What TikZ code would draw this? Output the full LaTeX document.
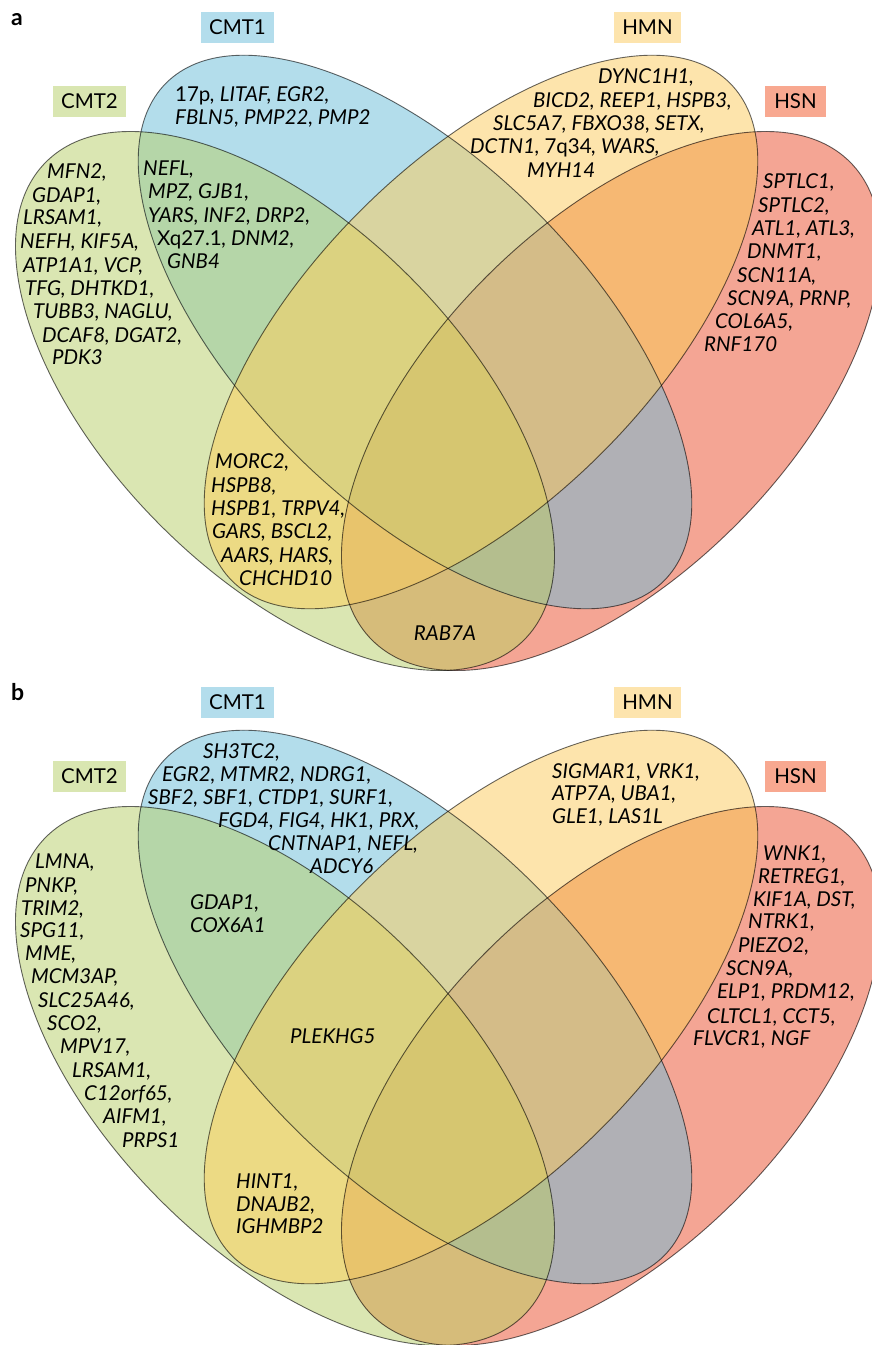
\documentclass[tikz,border=0pt]{standalone}
\usepackage{fontspec}
\setmainfont{Lato}
\definecolor{cG}{HTML}{DAE6B2}
\definecolor{cB}{HTML}{B3DDEB}
\definecolor{cY}{HTML}{FDE4AC}
\definecolor{cR}{HTML}{F4A594}
\definecolor{cGB}{HTML}{B5D6A8}
\definecolor{cGY}{HTML}{ECDA84}
\definecolor{cGR}{HTML}{D6BC7A}
\definecolor{cBY}{HTML}{D9D4A0}
\definecolor{cBR}{HTML}{B0B0B5}
\definecolor{cYR}{HTML}{F6B873}
\definecolor{cGBY}{HTML}{DBD280}
\definecolor{cGBR}{HTML}{B4BE8E}
\definecolor{cGYR}{HTML}{E8C46C}
\definecolor{cBYR}{HTML}{D4BC88}
\definecolor{cGBYR}{HTML}{D6C670}
\definecolor{lG}{HTML}{D9E6B1}
\definecolor{lB}{HTML}{B3DDEC}
\definecolor{lY}{HTML}{FDE4AD}
\definecolor{lR}{HTML}{F8A890}
\newcommand\EG[2]{[#2,rotate around={-45:(285,#1+401)}] (285,#1+401) ellipse [x radius=338,y radius=176]}
\newcommand\EB[2]{[#2,rotate around={-45:(415,#1+332)}] (415,#1+332) ellipse [x radius=352,y radius=171]}
\newcommand\EY[2]{[#2,rotate around={45:(481,#1+332)}] (481,#1+332) ellipse [x radius=352,y radius=171]}
\newcommand\ER[2]{[#2,rotate around={45:(611,#1+401)}] (611,#1+401) ellipse [x radius=338,y radius=176]}
\newcommand\vennpanel[1]{%
 \fill\EG{#1}{cG}; \fill\EB{#1}{cB}; \fill\EY{#1}{cY}; \fill\ER{#1}{cR};
 \begin{scope}\clip\EG{#1}{}; \fill\EB{#1}{cGB}; \fill\EY{#1}{cGY}; \fill\ER{#1}{cGR};\end{scope}
 \begin{scope}\clip\EB{#1}{}; \fill\EY{#1}{cBY}; \fill\ER{#1}{cBR};\end{scope}
 \begin{scope}\clip\EY{#1}{}; \fill\ER{#1}{cYR};\end{scope}
 \begin{scope}\clip\EG{#1}{}; \clip\EB{#1}{}; \fill\EY{#1}{cGBY}; \fill\ER{#1}{cGBR};\end{scope}
 \begin{scope}\clip\EG{#1}{}; \clip\EY{#1}{}; \fill\ER{#1}{cGYR};\end{scope}
 \begin{scope}\clip\EB{#1}{}; \clip\EY{#1}{}; \fill\ER{#1}{cBYR};\end{scope}
 \begin{scope}\clip\EG{#1}{}; \clip\EB{#1}{}; \clip\EY{#1}{}; \fill\ER{#1}{cGBYR};\end{scope}
 \draw\EG{#1}{outl}; \draw\EB{#1}{outl}; \draw\EY{#1}{outl}; \draw\ER{#1}{outl};
}
\begin{document}
\begin{tikzpicture}[x=1pt,y=-1pt,
  outl/.style={draw=black,draw opacity=0.6,line width=0.9pt},
  gene/.style={anchor=base west,inner sep=0pt,font=\fontsize{20.5pt}{23pt}\selectfont\itshape},
  genec/.style={gene,anchor=base},
  lab/.style={inner sep=0pt,minimum height=31pt,font=\fontsize{20.5pt}{23pt}\selectfont},
  panel/.style={anchor=base west,inner sep=0pt,font=\fontsize{23pt}{26pt}\selectfont\bfseries}]
\useasboundingbox (0,0) rectangle (871,1345);
\vennpanel{0}
\vennpanel{675}
% panel labels
\node[panel] (pa) at (11,25) {a};
\node[panel] (pb) at (11,700) {b};
% category labels panel a
\node[lab,fill=lB,minimum width=73pt] (aCMT1) at (237.5,27.5) {CMT1};
\node[lab,fill=lG,minimum width=73pt] (aCMT2) at (89.5,101.5) {CMT2};
\node[lab,fill=lY,minimum width=67pt] (aHMN) at (647.5,27.5) {HMN};
\node[lab,fill=lR,minimum width=61pt] (aHSN) at (795.5,101.5) {HSN};
% category labels panel b
\node[lab,fill=lB,minimum width=73pt] (bCMT1) at (237.5,702.5) {CMT1};
\node[lab,fill=lG,minimum width=73pt] (bCMT2) at (89.5,776.5) {CMT2};
\node[lab,fill=lY,minimum width=67pt] (bHMN) at (647.5,702.5) {HMN};
\node[lab,fill=lR,minimum width=61pt] (bHSN) at (795.5,776.5) {HSN};
% ---- panel a genes
\node[gene] (aB1) at (175,101) {\textup{17p}, LITAF, EGR2,};
\node[gene] (aB2) at (175,124) {FBLN5, PMP22, PMP2};
\node[gene] (aG1) at (47,178) {MFN2,};
\node[gene] (aG2) at (32,202) {GDAP1,};
\node[gene] (aG3) at (23,224) {LRSAM1,};
\node[gene] (aG4) at (20,248) {NEFH, KIF5A,};
\node[gene] (aG5) at (23,272) {ATP1A1, VCP,};
\node[gene] (aG6) at (25,295) {TFG, DHTKD1,};
\node[gene] (aG7) at (33,318) {TUBB3, NAGLU,};
\node[gene] (aG8) at (42,342) {DCAF8, DGAT2,};
\node[gene] (aG9) at (52,364) {PDK3};
\node[gene] (aGB1) at (143,175) {NEFL,};
\node[gene] (aGB2) at (148,198) {MPZ, GJB1,};
\node[gene] (aGB3) at (148,222) {YARS, INF2, DRP2,};
\node[gene] (aGB4) at (157,245) {\textup{Xq27.1}, DNM2,};
\node[gene] (aGB5) at (167,268) {GNB4};
\node[gene] (aY1) at (598,83) {DYNC1H1,};
\node[gene] (aY2) at (533,107) {BICD2, REEP1, HSPB3,};
\node[gene] (aY3) at (493,130) {SLC5A7, FBXO38, SETX,};
\node[gene] (aY4) at (470,153) {DCTN1, \textup{7q34}, WARS,};
\node[gene] (aY5) at (527,177) {MYH14};
\node[gene] (aR1) at (763,188) {SPTLC1,};
\node[gene] (aR2) at (758,212) {SPTLC2,};
\node[gene] (aR3) at (752,235) {ATL1, ATL3,};
\node[gene] (aR4) at (747,258) {DNMT1,};
\node[gene] (aR5) at (737,282) {SCN11A,};
\node[gene] (aR6) at (727,305) {SCN9A, PRNP,};
\node[gene] (aR7) at (715,328) {COL6A5,};
\node[gene] (aR8) at (704,351) {RNF170};
\node[gene] (aGY1) at (215,468) {MORC2,};
\node[gene] (aGY2) at (211,492) {HSPB8,};
\node[gene] (aGY3) at (211,515) {HSPB1, TRPV4,};
\node[gene] (aGY4) at (212,538) {GARS, BSCL2,};
\node[gene] (aGY5) at (221,562) {AARS, HARS,};
\node[gene] (aGY6) at (239,585) {CHCHD10};
\node[genec] (aGR1) at (445,640) {RAB7A};
% ---- panel b genes
\node[gene] (bB1) at (203,758) {SH3TC2,};
\node[gene] (bB2) at (162,781) {EGR2, MTMR2, NDRG1,};
\node[gene] (bB3) at (148,804) {SBF2, SBF1, CTDP1, SURF1,};
\node[gene] (bB4) at (218,827) {FGD4, FIG4, HK1, PRX,};
\node[gene] (bB5) at (268,850) {CNTNAP1, NEFL,};
\node[gene] (bB6) at (310,873) {ADCY6};
\node[gene] (bG1) at (35,868) {LMNA,};
\node[gene] (bG2) at (25,892) {PNKP,};
\node[gene] (bG3) at (21,915) {TRIM2,};
\node[gene] (bG4) at (20,937) {SPG11,};
\node[gene] (bG5) at (25,960) {MME,};
\node[gene] (bG6) at (31,983) {MCM3AP,};
\node[gene] (bG7) at (38,1007) {SLC25A46,};
\node[gene] (bG8) at (47,1030) {SCO2,};
\node[gene] (bG9) at (60,1053) {MPV17,};
\node[gene] (bG10) at (72,1077) {LRSAM1,};
\node[gene] (bG11) at (84,1100) {C12orf65,};
\node[gene] (bG12) at (103,1123) {AIFM1,};
\node[gene] (bG13) at (122,1147) {PRPS1};
\node[gene] (bGB1) at (190,909) {GDAP1,};
\node[gene] (bGB2) at (190,932) {COX6A1};
\node[gene] (bY1) at (552,778) {SIGMAR1, VRK1,};
\node[gene] (bY2) at (552,800) {ATP7A, UBA1,};
\node[gene] (bY3) at (552,823) {GLE1, LAS1L};
\node[gene] (bR1) at (763,860) {WNK1,};
\node[gene] (bR2) at (758,883) {RETREG1,};
\node[gene] (bR3) at (753,906) {KIF1A, DST,};
\node[gene] (bR4) at (748,928) {NTRK1,};
\node[gene] (bR5) at (738,952) {PIEZO2,};
\node[gene] (bR6) at (726,975) {SCN9A,};
\node[gene] (bR7) at (717,998) {ELP1, PRDM12,};
\node[gene] (bR8) at (707,1023) {CLTCL1, CCT5,};
\node[gene] (bR9) at (693,1045) {FLVCR1, NGF};
\node[gene] (bGBY1) at (290,1043) {PLEKHG5};
\node[gene] (bGY1) at (236,1188) {HINT1,};
\node[gene] (bGY2) at (236,1211) {DNAJB2,};
\node[gene] (bGY3) at (236,1233) {IGHMBP2};
\end{tikzpicture}
\end{document}
